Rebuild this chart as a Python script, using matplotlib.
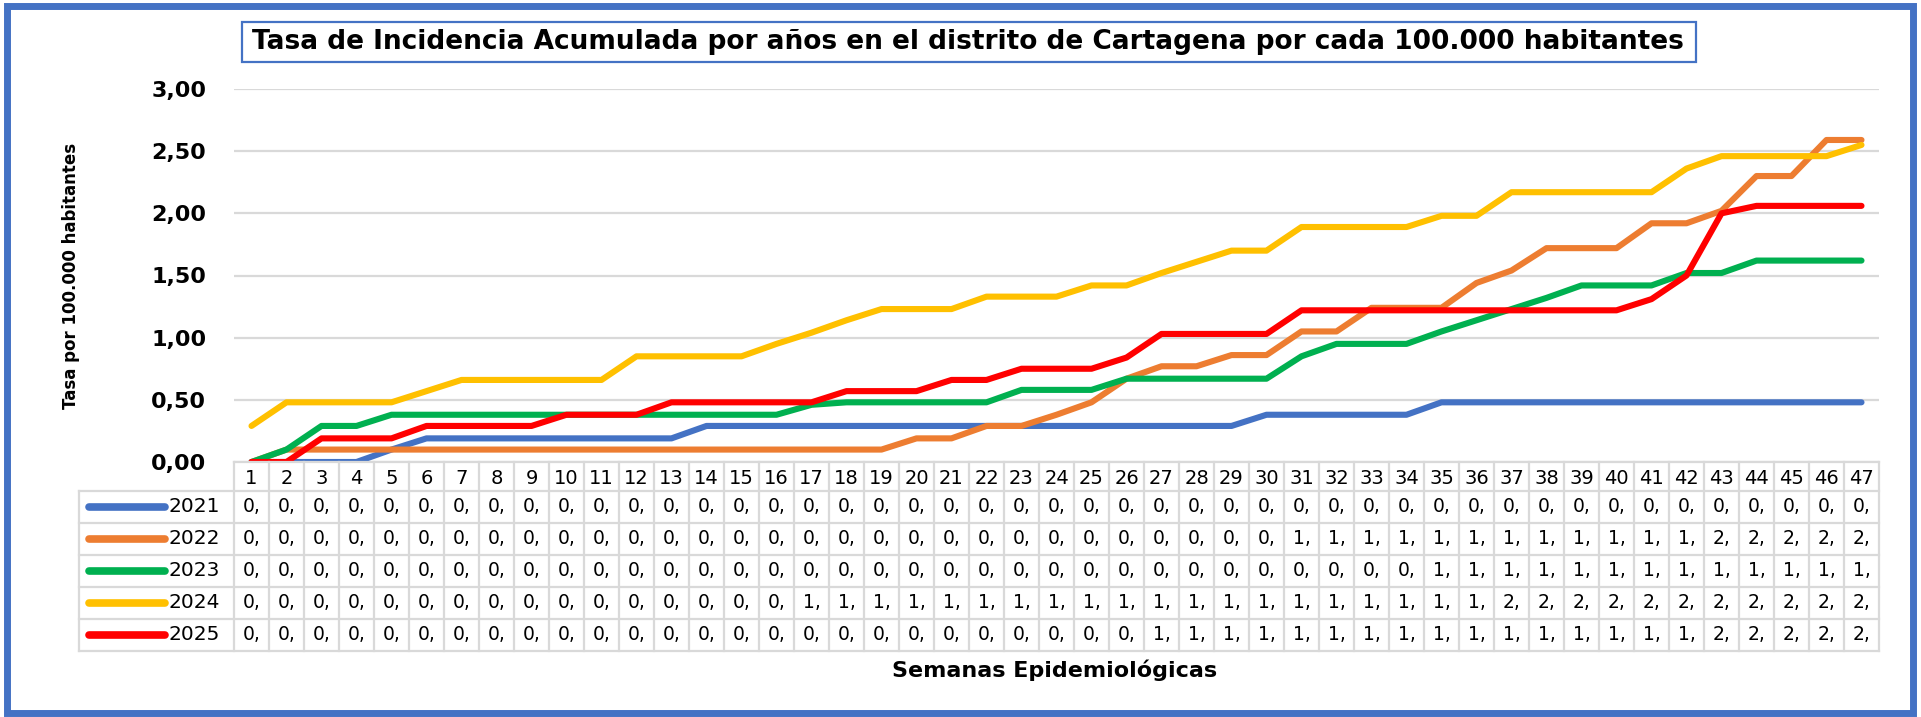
import matplotlib
matplotlib.use("Agg")
import matplotlib.pyplot as plt
from matplotlib.patches import Rectangle
from matplotlib.ticker import FuncFormatter

# epidemiological weeks
weeks = list(range(1, 48))
years = ['2021', '2022', '2023', '2024', '2025']
colors = ['#4472C4', '#ED7D31', '#00B050', '#FFC000', '#FF0000']

# cumulative incidence rate per 100.000 inhabitants
tasa_2021 = [0, 0, 0, 0, 0.10, 0.19, 0.19, 0.19, 0.19, 0.19, 0.19, 0.19, 0.19, 0.29, 0.29, 0.29,
             0.29, 0.29, 0.29, 0.29, 0.29, 0.29, 0.29, 0.29, 0.29, 0.29, 0.29, 0.29, 0.29, 0.38,
             0.38, 0.38, 0.38, 0.38, 0.48, 0.48, 0.48, 0.48, 0.48, 0.48, 0.48, 0.48, 0.48, 0.48,
             0.48, 0.48, 0.48]
tasa_2022 = [0, 0.10, 0.10, 0.10, 0.10, 0.10, 0.10, 0.10, 0.10, 0.10, 0.10, 0.10, 0.10, 0.10, 0.10,
             0.10, 0.10, 0.10, 0.10, 0.19, 0.19, 0.29, 0.29, 0.38, 0.48, 0.67, 0.77, 0.77, 0.86,
             0.86, 1.05, 1.05, 1.24, 1.24, 1.24, 1.44, 1.54, 1.72, 1.72, 1.72, 1.92, 1.92, 2.02,
             2.30, 2.30, 2.59, 2.59]
tasa_2023 = [0, 0.10, 0.29, 0.29, 0.38, 0.38, 0.38, 0.38, 0.38, 0.38, 0.38, 0.38, 0.38, 0.38, 0.38,
             0.38, 0.46, 0.48, 0.48, 0.48, 0.48, 0.48, 0.58, 0.58, 0.58, 0.67, 0.67, 0.67, 0.67,
             0.67, 0.85, 0.95, 0.95, 0.95, 1.05, 1.14, 1.23, 1.32, 1.42, 1.42, 1.42, 1.52, 1.52,
             1.62, 1.62, 1.62, 1.62]
tasa_2024 = [0.29, 0.48, 0.48, 0.48, 0.48, 0.57, 0.66, 0.66, 0.66, 0.66, 0.66, 0.85, 0.85, 0.85, 0.85,
             0.95, 1.04, 1.14, 1.23, 1.23, 1.23, 1.33, 1.33, 1.33, 1.42, 1.42, 1.52, 1.61, 1.70,
             1.70, 1.89, 1.89, 1.89, 1.89, 1.98, 1.98, 2.17, 2.17, 2.17, 2.17, 2.17, 2.36, 2.46,
             2.46, 2.46, 2.46, 2.55]
tasa_2025 = [0, 0, 0.19, 0.19, 0.19, 0.29, 0.29, 0.29, 0.29, 0.38, 0.38, 0.38, 0.48, 0.48, 0.48,
             0.48, 0.48, 0.57, 0.57, 0.57, 0.66, 0.66, 0.75, 0.75, 0.75, 0.84, 1.03, 1.03, 1.03,
             1.03, 1.22, 1.22, 1.22, 1.22, 1.22, 1.22, 1.22, 1.22, 1.22, 1.22, 1.31, 1.50, 2.00,
             2.06, 2.06, 2.06, 2.06]
series = [tasa_2021, tasa_2022, tasa_2023, tasa_2024, tasa_2025]

title = 'Tasa de Incidencia Acumulada por años en el distrito de Cartagena por cada 100.000 habitantes'
ylabel = 'Tasa por 100.000 habitantes'
xlabel = 'Semanas Epidemiológicas'

W, H = 1921, 717
grid_col = '#D9D9D9'
fam = ['DejaVu Sans']
narrow = ['Liberation Sans Narrow', 'DejaVu Sans Condensed', 'DejaVu Sans']

fig = plt.figure(figsize=(W / 100, H / 100), dpi=100)


def px_axes(x0, y0, x1, y1):
    return fig.add_axes([x0 / W, 1 - y1 / H, (x1 - x0) / W, (y1 - y0) / H])


# --- line chart ---
plot_l, plot_r = 234, 1879
ax = px_axes(plot_l, 89, plot_r, 462)
for vals, c in zip(series, colors):
    ax.plot(weeks, vals, color=c, lw=4.4, solid_capstyle='round', solid_joinstyle='round', zorder=3)
ax.set_xlim(0.5, 47.5)
ax.set_ylim(0, 3)
ax.set_yticks([0, 0.5, 1, 1.5, 2, 2.5, 3])
ax.yaxis.set_major_formatter(FuncFormatter(lambda v, p: f'{v:.2f}'.replace('.', ',')))
ax.grid(axis='y', color=grid_col, lw=1.6, zorder=0)
ax.set_xticks([])
ax.tick_params(axis='y', length=0, pad=20)
for lab in ax.get_yticklabels():
    lab.set_fontweight('bold')
    lab.set_fontsize(16)
    lab.set_family(fam)
for s in ax.spines.values():
    s.set_visible(False)
ax.set_ylabel(ylabel, family=narrow, fontweight='bold', fontsize=12, labelpad=0)
ax.yaxis.set_label_coords((80 - plot_l) / (plot_r - plot_l), 0.5)

# --- data table under the chart ---
col_w = (plot_r - plot_l) / 47
tab_l = 79
x_left = 0.5 - (plot_l - tab_l) / col_w
head_h = 0.9
tbl = px_axes(tab_l, 462, plot_r, 651)
tbl.set_xlim(x_left, 47.5)
tbl.set_ylim(head_h + len(years), 0)
tbl.axis('off')

line_kw = dict(color=grid_col, lw=1.6, clip_on=False)
tbl.plot([0.5, 47.5], [0, 0], **line_kw)
for i in range(len(years) + 1):
    tbl.plot([x_left, 47.5], [head_h + i, head_h + i], **line_kw)
tbl.plot([x_left, x_left], [head_h, head_h + len(years)], **line_kw)
for k in range(48):
    tbl.plot([k + 0.5, k + 0.5], [0, head_h + len(years)], **line_kw)

for w in weeks:
    tbl.text(w, head_h / 2 + 0.05, str(w), ha='center', va='center', fontsize=14, family=fam)

for i, (yr, vals, c) in enumerate(zip(years, series, colors)):
    yc = head_h + i + 0.5
    x0 = 0.5 - (plot_l - 89) / col_w
    x1 = 0.5 - (plot_l - 165) / col_w
    tbl.plot([x0, x1], [yc, yc], color=c, lw=5.5, solid_capstyle='round')
    tbl.text(0.5 - (plot_l - 168) / col_w, yc, yr, ha='left', va='center', fontsize=14.5, family=fam)
    for w, v in zip(weeks, vals):
        tbl.text(w, yc, f'{int(v)},', ha='center', va='center', fontsize=13.5, family=fam)

fig.text(1055 / W, 1 - 670 / H, xlabel, ha='center', va='center', fontsize=16,
         fontweight='bold', family=fam)

# --- title box ---
fig.patches.append(Rectangle((242 / W, 1 - 62 / H), (1696 - 242) / W, 40 / H, transform=fig.transFigure,
                             fill=False, edgecolor='#4472C4', lw=1.6))
fig.text(968 / W, 1 - 42 / H, title, ha='center', va='center', fontsize=19, fontweight='bold', family=fam)

# --- outer frame ---
fig.patches.append(Rectangle((7 / W, 1 - 713 / H), (1913 - 7) / W, (713 - 6) / H, transform=fig.transFigure,
                             fill=False, edgecolor='#4472C4', lw=5))

fig.savefig('out.png', dpi=100, facecolor='white')
